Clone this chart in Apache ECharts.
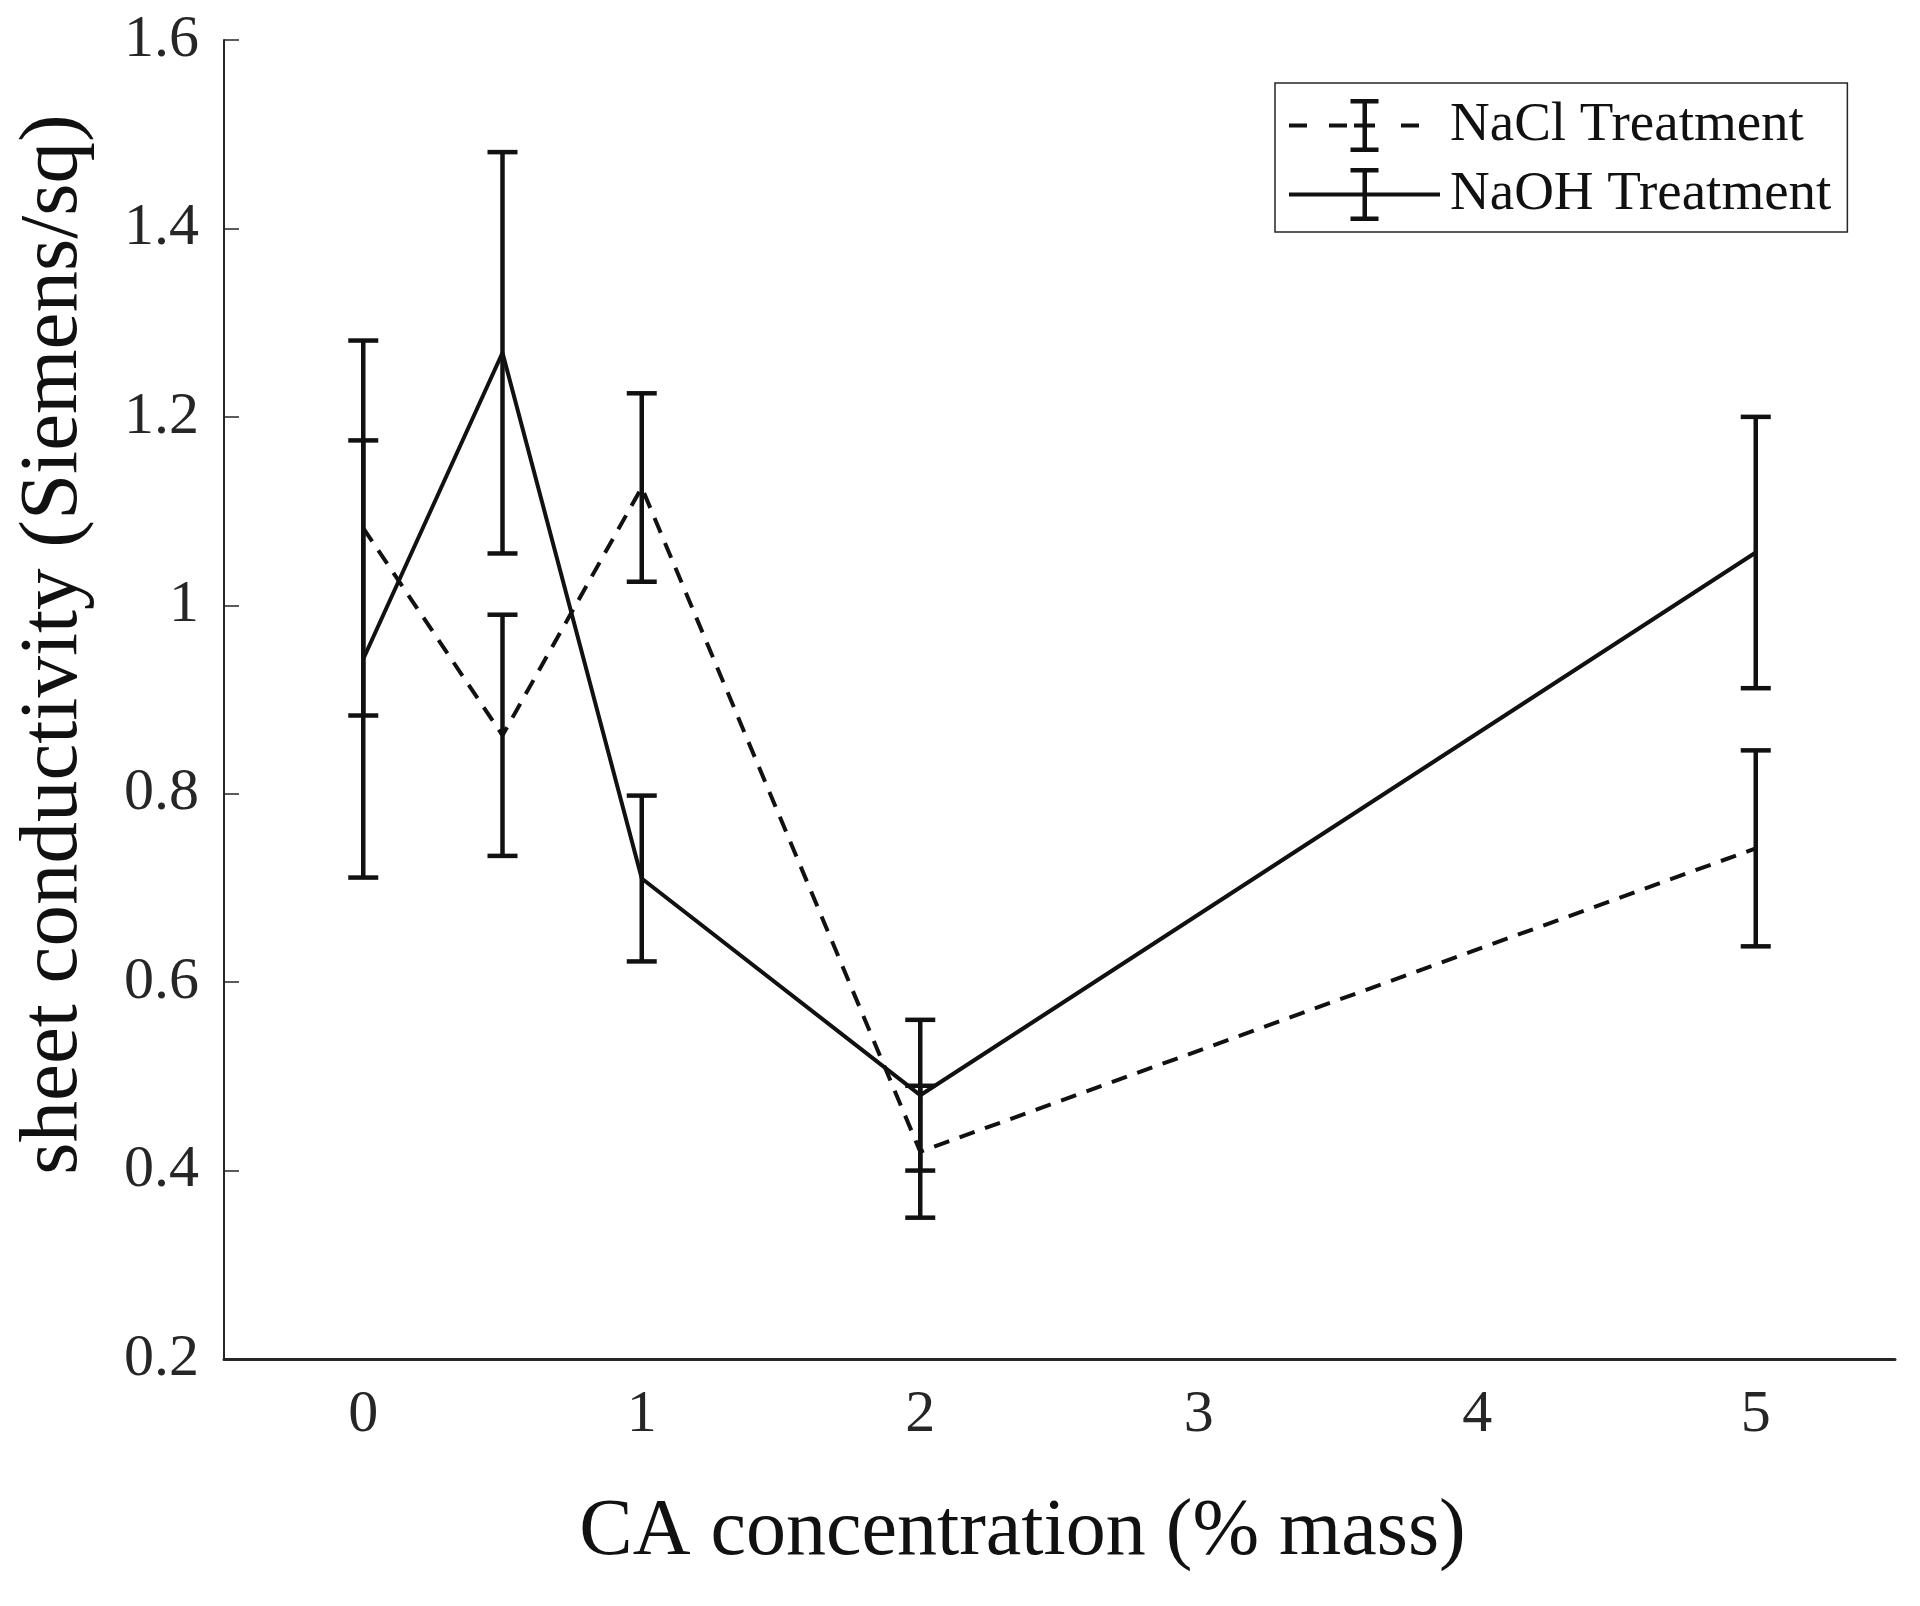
<!DOCTYPE html>
<html><head><meta charset="utf-8">
<script src="https://cdn.jsdelivr.net/npm/echarts@6/dist/echarts.min.js"></script>
<style>html,body{margin:0;padding:0;background:#fff}#c{width:1920px;height:1606px}</style>
</head><body><div id="c"></div>
<script>
// ---- data ----
const concentration = [0, 0.5, 1, 2, 5];
const naclMean = [1.082, 0.862, 1.125, 0.42, 0.742];
const naclErr  = [0.199, 0.128, 0.100, 0.070, 0.104];
const naohMean = [0.943, 1.268, 0.710, 0.480, 1.056];
const naohErr  = [0.232, 0.213, 0.088, 0.080, 0.144];
const xTickLabels = ['0', '1', '2', '3', '4', '5'];
const seriesNames = ['NaCl Treatment', 'NaOH Treatment'];
const xTitle = 'CA concentration (% mass)';
const yTitle = 'sheet conductivity (Siemens/sq)';

const FONT = '"Liberation Serif", "Times New Roman", serif';
const INK = '#111';
const AXIS = '#262626';

function pts(means) { return concentration.map((c, i) => [c, means[i]]); }
function bars(means, errs) { return concentration.map((c, i) => [c, means[i] - errs[i], means[i] + errs[i]]); }

function renderErr(params, api) {
  const x = api.value(0), lo = api.value(1), hi = api.value(2);
  const a = api.coord([x, lo]), b = api.coord([x, hi]);
  const hw = 15;
  const st = { stroke: INK, lineWidth: 4.5 };
  return {
    type: 'group',
    children: [
      { type: 'line', shape: { x1: a[0], y1: a[1], x2: b[0], y2: b[1] }, style: st },
      { type: 'line', shape: { x1: a[0] - hw, y1: a[1], x2: a[0] + hw, y2: a[1] }, style: st },
      { type: 'line', shape: { x1: b[0] - hw, y1: b[1], x2: b[0] + hw, y2: b[1] }, style: st }
    ]
  };
}

const ibeam = 'M73.5,2h4.5v49h-4.5z M61.5,0h28v4.5h-28z M61.5,48.5h28v4.5h-28z';
const naohIcon = 'path://M0,24.5h151v4h-151z ' + ibeam;
const naclIcon = 'path://M0,24.5h18v4h-18z M40,24.5h18v4h-18z M65,24.5h21v4h-21z M112,24.5h18v4h-18z M150.9,26h0.1v0.1h-0.1z ' + ibeam;

const chart = echarts.init(document.getElementById('c'), null, { renderer: 'canvas' });
chart.setOption({
  backgroundColor: '#fff',
  animation: false,
  grid: { left: 224, right: 25, top: 40, bottom: 247, containLabel: false },
  legend: {
    orient: 'vertical', left: 1275, top: 83,
    padding: [15, 16, 10, 14],
    itemWidth: 151, itemHeight: 53, itemGap: 14,
    borderColor: AXIS, borderWidth: 1.5, backgroundColor: '#fff',
    selectedMode: false,
    itemStyle: { color: INK, borderWidth: 0 },
    textStyle: { fontFamily: FONT, fontSize: 55, color: INK, padding: [0, 0, 0, 5] },
    data: [
      { name: seriesNames[0], icon: naclIcon },
      { name: seriesNames[1], icon: naohIcon }
    ]
  },
  xAxis: [
    {
      type: 'category', data: xTickLabels, boundaryGap: true, position: 'bottom',
      axisLine: { onZero: false, lineStyle: { color: AXIS, width: 3 } },
      axisTick: { inside: true, alignWithLabel: true, length: 15, lineStyle: { color: AXIS, width: 1.5 } },
      axisLabel: { fontFamily: FONT, fontSize: 60, color: AXIS, margin: 26 },
      splitLine: { show: false },
      name: xTitle, nameLocation: 'middle', nameGap: 134,
      nameTextStyle: { fontFamily: FONT, fontSize: 80, color: INK, padding: [0, 74, 0, 0] }
    },
    { type: 'value', min: -0.5, max: 5.5, show: false }
  ],
  yAxis: {
    type: 'value', min: 0.2, max: 1.6, interval: 0.2,
    axisLine: { show: true, onZero: false, lineStyle: { color: AXIS, width: 2 } },
    axisTick: { show: true, inside: true, length: 15, lineStyle: { color: AXIS, width: 1.5 } },
    axisLabel: { fontFamily: FONT, fontSize: 60, color: AXIS, margin: 25 },
    splitLine: { show: false },
    name: yTitle, nameLocation: 'middle', nameGap: 128,
    nameTextStyle: { fontFamily: FONT, fontSize: 83, color: INK, padding: [0, 0, 0, 110] }
  },
  series: [
    {
      name: seriesNames[0], type: 'line', xAxisIndex: 1, yAxisIndex: 0,
      data: pts(naclMean), symbol: 'none', color: INK,
      lineStyle: { color: INK, width: 4, type: [16, 11] }
    },
    {
      name: seriesNames[1], type: 'line', xAxisIndex: 1, yAxisIndex: 0,
      data: pts(naohMean), symbol: 'none', color: INK,
      lineStyle: { color: INK, width: 4, type: 'solid' }
    },
    {
      type: 'custom', xAxisIndex: 1, yAxisIndex: 0, renderItem: renderErr,
      data: bars(naclMean, naclErr), encode: { x: 0, y: [1, 2] }, silent: true
    },
    {
      type: 'custom', xAxisIndex: 1, yAxisIndex: 0, renderItem: renderErr,
      data: bars(naohMean, naohErr), encode: { x: 0, y: [1, 2] }, silent: true
    }
  ]
});
</script>
</body></html>
